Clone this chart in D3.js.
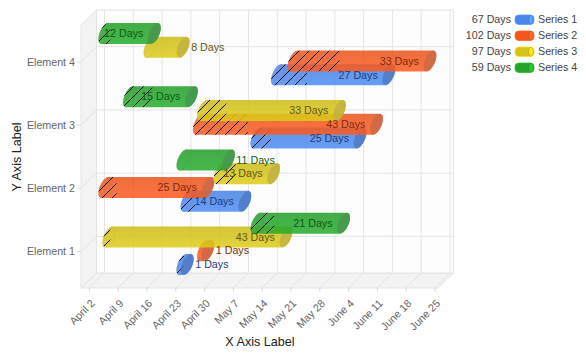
<!DOCTYPE html>
<html>
<head>
<meta charset="utf-8">
<script src="https://cdnjs.cloudflare.com/ajax/libs/d3/7.8.5/d3.min.js"></script>
<style>
html,body{margin:0;padding:0;background:#fff;}
svg{display:block;font-family:"Liberation Sans",Arial,sans-serif;}
</style>
</head>
<body>
<svg id="chart" width="586" height="355"></svg>
<script>
// ---------- data ----------
const elements = ["Element 1", "Element 2", "Element 3", "Element 4"];
const seriesNames = ["Series 1", "Series 2", "Series 3", "Series 4"];

const series1Start = ["04-23", "04-24", "05-11", "05-16"];
const series1Days  = [1, 14, 25, 27];
const series1Done  = [0.2, 2, 3.3, 7.1];

const series2Start = ["04-28", "04-04", "04-27", "05-20"];
const series2Days  = [1, 25, 43, 33];
const series2Done  = [0, 2.8, 11.7, 11];

const series3Start = ["04-05", "05-02", "04-28", "04-15"];
const series3Days  = [43, 13, 33, 8];
const series3Done  = [0.3, 3.8, 5.5, 0];

const series4Start = ["05-11", "04-23", "04-10", "04-04"];
const series4Days  = [21, 11, 15, 12];
const series4Done  = [4.1, 0, 5.5, 1.3];

const tickDates  = ["04-02","04-09","04-16","04-23","04-30","05-07","05-14","05-21","05-28","06-04","06-11","06-18","06-25"];
const tickLabels = ["April 2","April 9","April 16","April 23","April 30","May 7","May 14","May 21","May 28","June 4","June 11","June 18","June 25"];

const seriesColors = ["#4b87eb", "#f3571d", "#d6c317", "#23a52a"];
const capColors    = ["#4f78c0", "#c9684a", "#bfb044", "#489550"];
const textColors   = ["#1d3c78", "#7c2a10", "#5f5717", "#0d5a14"];

const allStart = [series1Start, series2Start, series3Start, series4Start];
const allDays  = [series1Days, series2Days, series3Days, series4Days];
const allDone  = [series1Done, series2Done, series3Done, series4Done];

// ---------- frame ----------
const date = s => new Date(Date.UTC(2023, +s.slice(0, 2) - 1, +s.slice(3)));
const addDays = (d, n) => new Date(+d + n * 864e5);

const plotLeft = 81, plotRight = 438, plotTop = 25, plotBottom = 288;
const depthX = 15.5, depthY = 15;
const gridColor = "#e4e4e4";

const x = d3.scaleUtc().domain([date("04-02"), date("06-25")]).range([89, 434.5]);
const y = d3.scalePoint().domain(elements.slice().reverse()).range([plotTop, plotBottom]).padding(0.58);

const svg = d3.select("#chart");
const defs = svg.append("defs");

const hatchStep = 10;
const hatch = defs.append("pattern").attr("id", "hatch")
  .attr("patternUnits", "userSpaceOnUse").attr("width", hatchStep).attr("height", hatchStep);
hatch.append("path")
  .attr("d", `M-1,${hatchStep + 1} L${hatchStep + 1},-1 M-1,1 L1,-1 M${hatchStep - 1},${hatchStep + 1} L${hatchStep + 1},${hatchStep - 1}`)
  .attr("stroke", "#000").attr("stroke-width", 1).attr("fill", "none");

seriesColors.forEach((c, i) => {
  const g = defs.append("linearGradient").attr("id", "body" + i)
    .attr("x1", 0).attr("y1", 0).attr("x2", 0).attr("y2", 1);
  g.append("stop").attr("offset", "0%").attr("stop-color", d3.color(c).darker(0.12));
  g.append("stop").attr("offset", "100%").attr("stop-color", d3.color(c).brighter(0.12));
});

// ---------- walls ----------
const line = d3.line();
const walls = svg.append("g");
walls.append("path").attr("fill", "#f3f3f3").attr("stroke", gridColor)
  .attr("d", line([[plotLeft, plotTop], [plotLeft + depthX, plotTop - depthY], [plotLeft + depthX, plotBottom - depthY], [plotLeft, plotBottom]]) + "Z");
walls.append("path").attr("fill", "#f3f3f3").attr("stroke", gridColor)
  .attr("d", line([[plotLeft, plotBottom], [plotLeft + depthX, plotBottom - depthY], [plotRight + depthX, plotBottom - depthY], [plotRight, plotBottom]]) + "Z");
walls.append("rect").attr("x", plotLeft + depthX).attr("y", plotTop - depthY)
  .attr("width", plotRight - plotLeft).attr("height", plotBottom - plotTop)
  .attr("fill", "#fdfdfd").attr("stroke", gridColor);

tickDates.forEach(t => {
  const px = x(date(t));
  walls.append("path").attr("fill", "none").attr("stroke", gridColor)
    .attr("d", line([[px, plotBottom], [px + depthX, plotBottom - depthY], [px + depthX, plotTop - depthY]]));
});
elements.forEach(e => {
  const py = y(e);
  walls.append("path").attr("fill", "none").attr("stroke", gridColor)
    .attr("d", line([[plotLeft, py], [plotLeft + depthX, py - depthY], [plotRight + depthX, py - depthY]]));
});

// ---------- axes ----------
const xAxis = d3.axisBottom(x)
  .tickValues(tickDates.map(date))
  .tickSize(4)
  .tickFormat((d, i) => tickLabels[i]);
const gx = svg.append("g").attr("transform", `translate(0,${plotBottom})`).call(xAxis);
gx.select(".domain").remove();
gx.selectAll("line").attr("stroke", "#dcdcdc");
gx.selectAll("text")
  .attr("text-anchor", "end").attr("fill", "#666").attr("font-size", 10.7)
  .attr("font-family", "Liberation Sans")
  .attr("dy", 0).attr("x", 0).attr("y", 0)
  .attr("transform", "translate(6,16) rotate(-45)");

const yAxis = d3.axisLeft(y).tickSize(4).tickPadding(2);
const gy = svg.append("g").attr("transform", `translate(${plotLeft},0)`).call(yAxis);
gy.select(".domain").remove();
gy.selectAll("line").attr("stroke", "#dcdcdc");
gy.selectAll("text").attr("fill", "#666").attr("font-size", 10.7).attr("font-family", "Liberation Sans");

svg.append("text").attr("x", 260).attr("y", 345.5).attr("text-anchor", "middle")
  .attr("font-size", 12.6).attr("fill", "#222").text("X Axis Label");
svg.append("text").attr("transform", "translate(20.5,157) rotate(-90)").attr("text-anchor", "middle")
  .attr("font-size", 12.6).attr("fill", "#222").text("Y Axis Label");

// ---------- cylinders ----------
const halfH = 10.5, skew = 3.5, bulge = 5.5, rowGap = 13.8, capReach = 6.5;
const ringPt = (cx, cy, deg) => {
  const t = deg * Math.PI / 180;
  return [cx + bulge * Math.cos(t) + skew * Math.sin(t), cy - halfH * Math.sin(t)];
};
const arc = (cx, cy, from, to) => d3.range(0, 13).map(k => ringPt(cx, cy, from + (to - from) * k / 12));
const silhouette = (x0, x1, cy) =>
  line([...arc(x0, cy, 270, 90), ...arc(x1, cy, 90, -90)]) + "Z";
const ring = (cx, cy) => line(arc(cx, cy, 0, 360)) + "Z";

const bars = svg.append("g");
const labels = svg.append("g");

seriesNames.forEach((seriesName, s) => {
  elements.forEach((el, e) => {
    const start = date(allStart[s][e]);
    const days = allDays[s][e];
    const done = allDone[s][e];
    const x0 = x(start) + depthX / 2;
    const x1 = x(addDays(start, days)) + depthX / 2;
    const cy = y(el) - depthY / 2 + (s - 1.5) * -rowGap;
    const path = silhouette(x0, x1, cy);
    const g = bars.append("g");
    g.append("path").attr("d", path).attr("fill", `url(#body${s})`).attr("fill-opacity", 0.85);
    g.append("path").attr("d", ring(x0, cy)).attr("fill", "none")
      .attr("stroke", capColors[s]).attr("stroke-width", 0.7).attr("stroke-opacity", 0.45);
    if (done > 0) {
      const id = `clip${s}${e}`;
      defs.append("clipPath").attr("id", id).append("path").attr("d", path);
      const xEnd = x(addDays(start, done)) + depthX / 2;
      g.append("rect").attr("x", x0 - 8).attr("y", cy - halfH)
        .attr("width", xEnd - x0 + 8).attr("height", 2 * halfH)
        .attr("fill", "url(#hatch)").attr("clip-path", `url(#${id})`);
    }
    g.append("path").attr("d", ring(x1, cy)).attr("fill", capColors[s]).attr("fill-opacity", 0.8);

    const edge = x1 + capReach;
    const inside = edge - (x0 - capReach) > 60;
    labels.append("text")
      .attr("x", inside ? edge - 17.5 : edge + 1.5)
      .attr("y", cy).attr("dy", "0.35em")
      .attr("text-anchor", inside ? "end" : "start")
      .attr("font-size", 10.7).attr("fill", textColors[s])
      .text(days + " Days");
  });
});

// ---------- legend ----------
const legend = svg.append("g");
const legendY = d3.scalePoint().domain(seriesNames).range([19.5, 67.5]);
seriesNames.forEach((seriesName, s) => {
  const ly = legendY(seriesName);
  legend.append("text").attr("x", 511).attr("y", ly).attr("dy", "0.35em")
    .attr("text-anchor", "end").attr("font-size", 10.7).attr("fill", "#444")
    .text(d3.sum(allDays[s]) + " Days");
  legend.append("rect").attr("x", 515).attr("y", ly - 4.5).attr("width", 19).attr("height", 9.5)
    .attr("rx", 4).attr("fill", seriesColors[s]).attr("stroke", d3.color(seriesColors[s]).brighter(0.4)).attr("stroke-width", 0.8);
  legend.append("ellipse").attr("cx", 531).attr("cy", ly + 0.2).attr("rx", 2.2).attr("ry", 4.4)
    .attr("fill", d3.color(seriesColors[s]).brighter(0.5)).attr("stroke", d3.color(seriesColors[s]).darker(0.3)).attr("stroke-width", 0.6);
  legend.append("text").attr("x", 538).attr("y", ly).attr("dy", "0.35em")
    .attr("font-size", 10.7).attr("fill", "#444").text(seriesName);
});
</script>
</body>
</html>
